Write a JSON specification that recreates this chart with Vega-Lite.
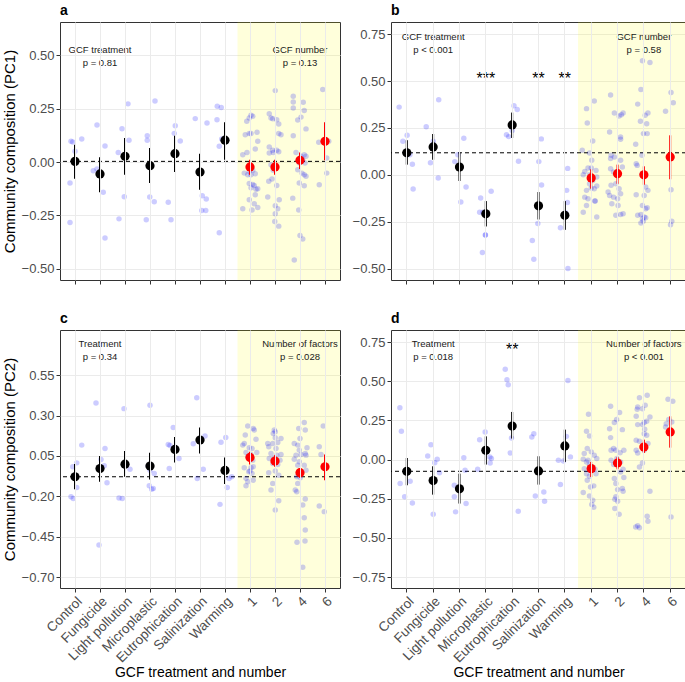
{
"$schema": "https://vega.github.io/schema/vega-lite/v6.json",
"padding": {"left": 1, "top": 3, "right": 0, "bottom": 0},
"background": "white",
"datasets": {
"shade": [{"p":"a","g1":"1","g2":"6"},{"p":"b","g1":"1","g2":"6"},{"p":"c","g1":"1","g2":"6"},{"p":"d","g1":"1","g2":"6"}],
"ctrl": [{"p":"a","v":0.003},{"p":"b","v":0.118},{"p":"c","v":-0.079},{"p":"d","v":-0.075}],
"notes": [
{"p":"a","g":"Fungicide","v":0.525,"t":"GCF treatment"},{"p":"a","g":"Fungicide","v":0.464,"t":"p = 0.81"},{"p":"a","g":"4","v":0.525,"t":"GCF number"},{"p":"a","g":"4","v":0.464,"t":"p = 0.13"},
{"p":"b","g":"Fungicide","v":0.736,"t":"GCF treatment"},{"p":"b","g":"Fungicide","v":0.666,"t":"p < 0.001"},{"p":"b","g":"4","v":0.736,"t":"GCF number"},{"p":"b","g":"4","v":0.666,"t":"p = 0.58"},
{"p":"c","g":"Fungicide","v":0.745,"t":"Treatment"},{"p":"c","g":"Fungicide","v":0.663,"t":"p = 0.34"},{"p":"c","g":"4","v":0.745,"t":"Number of factors"},{"p":"c","g":"4","v":0.663,"t":"p = 0.028"},
{"p":"d","g":"Fungicide","v":0.739,"t":"Treatment"},{"p":"d","g":"Fungicide","v":0.654,"t":"p = 0.018"},{"p":"d","g":"4","v":0.739,"t":"Number of factors"},{"p":"d","g":"4","v":0.654,"t":"p < 0.001"}
],
"stars": [
{"p":"b","g":"Microplastic","v":0.51,"t":"***"},{"p":"b","g":"Salinization","v":0.51,"t":"**"},{"p":"b","g":"Warming","v":0.51,"t":"**"},
{"p":"d","g":"Eutrophication","v":0.7,"t":"**"}
],
"means": [
{"p":"a","g":"Control","m":0.003,"lo":-0.078,"hi":0.081,"k":"t"},
{"p":"a","g":"Fungicide","m":-0.056,"lo":-0.141,"hi":0.022,"k":"t"},
{"p":"a","g":"Light pollution","m":0.027,"lo":-0.06,"hi":0.112,"k":"t"},
{"p":"a","g":"Microplastic","m":-0.017,"lo":-0.098,"hi":0.066,"k":"t"},
{"p":"a","g":"Eutrophication","m":0.039,"lo":-0.047,"hi":0.123,"k":"t"},
{"p":"a","g":"Salinization","m":-0.047,"lo":-0.13,"hi":0.039,"k":"t"},
{"p":"a","g":"Warming","m":0.102,"lo":0.011,"hi":0.186,"k":"t"},
{"p":"a","g":"1","m":-0.023,"lo":-0.06,"hi":0.011,"k":"n"},
{"p":"a","g":"2","m":-0.023,"lo":-0.06,"hi":0.011,"k":"n"},
{"p":"a","g":"4","m":0.008,"lo":-0.033,"hi":0.045,"k":"n"},
{"p":"a","g":"6","m":0.097,"lo":0.008,"hi":0.186,"k":"n"},
{"p":"b","g":"Control","m":0.118,"lo":0.055,"hi":0.185,"k":"t"},
{"p":"b","g":"Fungicide","m":0.149,"lo":0.081,"hi":0.218,"k":"t"},
{"p":"b","g":"Light pollution","m":0.042,"lo":-0.032,"hi":0.119,"k":"t"},
{"p":"b","g":"Microplastic","m":-0.207,"lo":-0.274,"hi":-0.139,"k":"t"},
{"p":"b","g":"Eutrophication","m":0.266,"lo":0.197,"hi":0.332,"k":"t"},
{"p":"b","g":"Salinization","m":-0.164,"lo":-0.237,"hi":-0.091,"k":"t"},
{"p":"b","g":"Warming","m":-0.215,"lo":-0.292,"hi":-0.139,"k":"t"},
{"p":"b","g":"1","m":-0.016,"lo":-0.073,"hi":0.03,"k":"n"},
{"p":"b","g":"2","m":0.007,"lo":-0.047,"hi":0.055,"k":"n"},
{"p":"b","g":"4","m":0.001,"lo":-0.052,"hi":0.046,"k":"n"},
{"p":"b","g":"6","m":0.096,"lo":-0.023,"hi":0.211,"k":"n"},
{"p":"c","g":"Control","m":-0.079,"lo":-0.157,"hi":0.0,"k":"t"},
{"p":"c","g":"Fungicide","m":-0.028,"lo":-0.11,"hi":0.049,"k":"t"},
{"p":"c","g":"Light pollution","m":-0.001,"lo":-0.079,"hi":0.08,"k":"t"},
{"p":"c","g":"Microplastic","m":-0.013,"lo":-0.096,"hi":0.069,"k":"t"},
{"p":"c","g":"Eutrophication","m":0.09,"lo":0.009,"hi":0.168,"k":"t"},
{"p":"c","g":"Salinization","m":0.148,"lo":0.065,"hi":0.226,"k":"t"},
{"p":"c","g":"Warming","m":-0.04,"lo":-0.124,"hi":0.04,"k":"t"},
{"p":"c","g":"1","m":0.041,"lo":-0.003,"hi":0.076,"k":"n"},
{"p":"c","g":"2","m":0.018,"lo":-0.017,"hi":0.055,"k":"n"},
{"p":"c","g":"4","m":-0.054,"lo":-0.085,"hi":-0.027,"k":"n"},
{"p":"c","g":"6","m":-0.017,"lo":-0.1,"hi":0.059,"k":"n"},
{"p":"d","g":"Control","m":-0.075,"lo":-0.164,"hi":0.01,"k":"t"},
{"p":"d","g":"Fungicide","m":-0.134,"lo":-0.224,"hi":-0.043,"k":"t"},
{"p":"d","g":"Light pollution","m":-0.187,"lo":-0.281,"hi":-0.09,"k":"t"},
{"p":"d","g":"Microplastic","m":0.059,"lo":-0.032,"hi":0.148,"k":"t"},
{"p":"d","g":"Eutrophication","m":0.214,"lo":0.134,"hi":0.304,"k":"t"},
{"p":"d","g":"Salinization","m":-0.073,"lo":-0.16,"hi":0.021,"k":"t"},
{"p":"d","g":"Warming","m":0.087,"lo":-0.015,"hi":0.191,"k":"t"},
{"p":"d","g":"1","m":-0.058,"lo":-0.111,"hi":-0.015,"k":"n"},
{"p":"d","g":"2","m":-0.022,"lo":-0.062,"hi":0.017,"k":"n"},
{"p":"d","g":"4","m":0.08,"lo":0.042,"hi":0.127,"k":"n"},
{"p":"d","g":"6","m":0.176,"lo":0.076,"hi":0.276,"k":"n"}
],
"pts": [
{"p":"a","g":"Control","j":-0.16,"v":0.097},{"p":"a","g":"Control","j":-0.09,"v":0.094},{"p":"a","g":"Control","j":0,"v":0.05},{"p":"a","g":"Control","j":0.27,"v":0.108},{"p":"a","g":"Control","j":-0.2,"v":-0.098},{"p":"a","g":"Control","j":-0.2,"v":-0.283},
{"p":"a","g":"Fungicide","j":-0.12,"v":0.173},{"p":"a","g":"Fungicide","j":-0.27,"v":-0.041},{"p":"a","g":"Fungicide","j":-0.12,"v":-0.033},{"p":"a","g":"Fungicide","j":0.2,"v":0.075},{"p":"a","g":"Fungicide","j":0.13,"v":-0.141},{"p":"a","g":"Fungicide","j":0.2,"v":-0.355},
{"p":"a","g":"Light pollution","j":0.12,"v":0.272},{"p":"a","g":"Light pollution","j":-0.12,"v":0.156},{"p":"a","g":"Light pollution","j":0.16,"v":0.102},{"p":"a","g":"Light pollution","j":-0.27,"v":0.045},{"p":"a","g":"Light pollution","j":-0.03,"v":-0.163},{"p":"a","g":"Light pollution","j":-0.24,"v":-0.266},
{"p":"a","g":"Microplastic","j":0.2,"v":0.285},{"p":"a","g":"Microplastic","j":-0.11,"v":0.123},{"p":"a","g":"Microplastic","j":-0.11,"v":0.102},{"p":"a","g":"Microplastic","j":-0.01,"v":-0.164},{"p":"a","g":"Microplastic","j":0.17,"v":-0.186},{"p":"a","g":"Microplastic","j":-0.15,"v":-0.27},
{"p":"a","g":"Eutrophication","j":0.01,"v":0.17},{"p":"a","g":"Eutrophication","j":-0.03,"v":0.134},{"p":"a","g":"Eutrophication","j":0.21,"v":0.098},{"p":"a","g":"Eutrophication","j":-0.27,"v":-0.188},{"p":"a","g":"Eutrophication","j":-0.16,"v":-0.27},
{"p":"a","g":"Salinization","j":-0.19,"v":0.203},{"p":"a","g":"Salinization","j":0.28,"v":0.183},{"p":"a","g":"Salinization","j":0.09,"v":-0.158},{"p":"a","g":"Salinization","j":0.25,"v":-0.173},{"p":"a","g":"Salinization","j":0.07,"v":-0.227},{"p":"a","g":"Salinization","j":0.23,"v":-0.227},
{"p":"a","g":"Warming","j":-0.31,"v":0.261},{"p":"a","g":"Warming","j":-0.15,"v":0.255},{"p":"a","g":"Warming","j":-0.32,"v":0.198},{"p":"a","g":"Warming","j":-0.23,"v":0.074},{"p":"a","g":"Warming","j":-0.13,"v":0.108},{"p":"a","g":"Warming","j":-0.23,"v":-0.331},
{"p":"a","g":"1","j":0.04,"v":0.219},{"p":"a","g":"1","j":-0.03,"v":0.206},{"p":"a","g":"1","j":0.11,"v":0.214},{"p":"a","g":"1","j":-0.13,"v":0.191},{"p":"a","g":"1","j":-0.03,"v":0.133},{"p":"a","g":"1","j":0.04,"v":0.133},{"p":"a","g":"1","j":-0.19,"v":0.127},{"p":"a","g":"1","j":0.28,"v":0.139},{"p":"a","g":"1","j":0.31,"v":0.097},{"p":"a","g":"1","j":-0.29,"v":0.034},{"p":"a","g":"1","j":-0.12,"v":0.045},{"p":"a","g":"1","j":0.21,"v":0.061},{"p":"a","g":"1","j":-0.23,"v":-0.052},{"p":"a","g":"1","j":0.11,"v":-0.039},{"p":"a","g":"1","j":-0.03,"v":-0.044},{"p":"a","g":"1","j":0.04,"v":-0.06},{"p":"a","g":"1","j":-0.09,"v":-0.06},{"p":"a","g":"1","j":0.21,"v":-0.055},{"p":"a","g":"1","j":-0.03,"v":-0.1},{"p":"a","g":"1","j":0.11,"v":-0.105},{"p":"a","g":"1","j":0.04,"v":-0.12},{"p":"a","g":"1","j":0.24,"v":-0.127},{"p":"a","g":"1","j":0.17,"v":-0.11},{"p":"a","g":"1","j":0.31,"v":-0.125},{"p":"a","g":"1","j":-0.03,"v":-0.177},{"p":"a","g":"1","j":0.21,"v":-0.153},{"p":"a","g":"1","j":0.17,"v":-0.195},{"p":"a","g":"1","j":-0.29,"v":-0.219},{"p":"a","g":"1","j":0.08,"v":-0.224},{"p":"a","g":"1","j":0.31,"v":-0.213},
{"p":"a","g":"2","j":0.01,"v":0.334},{"p":"a","g":"2","j":-0.23,"v":0.226},{"p":"a","g":"2","j":-0.16,"v":0.206},{"p":"a","g":"2","j":-0.09,"v":0.202},{"p":"a","g":"2","j":0.07,"v":0.198},{"p":"a","g":"2","j":0.15,"v":0.178},{"p":"a","g":"2","j":0.15,"v":0.133},{"p":"a","g":"2","j":0.24,"v":0.128},{"p":"a","g":"2","j":-0.23,"v":0.07},{"p":"a","g":"2","j":-0.09,"v":0.055},{"p":"a","g":"2","j":-0.23,"v":0.042},{"p":"a","g":"2","j":-0.07,"v":0.045},{"p":"a","g":"2","j":0.07,"v":0.055},{"p":"a","g":"2","j":0.15,"v":0.048},{"p":"a","g":"2","j":-0.16,"v":-0.013},{"p":"a","g":"2","j":0.01,"v":-0.023},{"p":"a","g":"2","j":-0.07,"v":-0.039},{"p":"a","g":"2","j":-0.25,"v":-0.09},{"p":"a","g":"2","j":-0.12,"v":-0.08},{"p":"a","g":"2","j":0.07,"v":-0.11},{"p":"a","g":"2","j":-0.29,"v":-0.164},{"p":"a","g":"2","j":0.17,"v":-0.177},{"p":"a","g":"2","j":0.01,"v":-0.205},{"p":"a","g":"2","j":0.11,"v":-0.219},{"p":"a","g":"2","j":0.01,"v":-0.242},{"p":"a","g":"2","j":0.15,"v":-0.3},{"p":"a","g":"2","j":-0.01,"v":-0.278},
{"p":"a","g":"4","j":-0.27,"v":0.308},{"p":"a","g":"4","j":-0.27,"v":0.281},{"p":"a","g":"4","j":-0.27,"v":0.253},{"p":"a","g":"4","j":0.13,"v":0.28},{"p":"a","g":"4","j":0.17,"v":0.241},{"p":"a","g":"4","j":-0.09,"v":0.196},{"p":"a","g":"4","j":0.04,"v":0.21},{"p":"a","g":"4","j":0.24,"v":0.155},{"p":"a","g":"4","j":-0.27,"v":0.123},{"p":"a","g":"4","j":-0.16,"v":0.045},{"p":"a","g":"4","j":0.04,"v":0.027},{"p":"a","g":"4","j":0.17,"v":0.034},{"p":"a","g":"4","j":0.24,"v":0.027},{"p":"a","g":"4","j":-0.03,"v":-0.005},{"p":"a","g":"4","j":0.11,"v":0.011},{"p":"a","g":"4","j":0.2,"v":-0.005},{"p":"a","g":"4","j":-0.09,"v":-0.036},{"p":"a","g":"4","j":0.17,"v":-0.06},{"p":"a","g":"4","j":0.24,"v":-0.067},{"p":"a","g":"4","j":0.08,"v":-0.052},{"p":"a","g":"4","j":-0.03,"v":-0.098},{"p":"a","g":"4","j":0.17,"v":-0.111},{"p":"a","g":"4","j":-0.29,"v":-0.169},{"p":"a","g":"4","j":-0.05,"v":-0.224},{"p":"a","g":"4","j":0,"v":-0.344},{"p":"a","g":"4","j":0.11,"v":-0.36},{"p":"a","g":"4","j":-0.23,"v":-0.458},
{"p":"a","g":"6","j":-0.09,"v":0.339},{"p":"a","g":"6","j":-0.25,"v":0.092},{"p":"a","g":"6","j":0.15,"v":0.097},{"p":"a","g":"6","j":0.07,"v":0.019},{"p":"a","g":"6","j":0.07,"v":-0.052},{"p":"a","g":"6","j":-0.23,"v":-0.106},
{"p":"b","g":"Control","j":-0.28,"v":0.361},{"p":"b","g":"Control","j":0.04,"v":0.211},{"p":"b","g":"Control","j":-0.13,"v":0.179},{"p":"b","g":"Control","j":0.15,"v":0.108},{"p":"b","g":"Control","j":0.25,"v":0.057},{"p":"b","g":"Control","j":0.28,"v":-0.075},
{"p":"b","g":"Fungicide","j":-0.25,"v":0.256},{"p":"b","g":"Fungicide","j":0.03,"v":0.179},{"p":"b","g":"Fungicide","j":-0.08,"v":0.065},{"p":"b","g":"Fungicide","j":0.25,"v":0.4},{"p":"b","g":"Fungicide","j":0.23,"v":-0.016},
{"p":"b","g":"Light pollution","j":0.2,"v":0.195},{"p":"b","g":"Light pollution","j":-0.16,"v":0.071},{"p":"b","g":"Light pollution","j":-0.04,"v":0.108},{"p":"b","g":"Light pollution","j":0.29,"v":-0.064},{"p":"b","g":"Light pollution","j":0.08,"v":-0.144},
{"p":"b","g":"Microplastic","j":-0.18,"v":-0.123},{"p":"b","g":"Microplastic","j":0.24,"v":-0.087},{"p":"b","g":"Microplastic","j":-0.22,"v":-0.198},{"p":"b","g":"Microplastic","j":-0.09,"v":-0.198},{"p":"b","g":"Microplastic","j":0.01,"v":-0.32},{"p":"b","g":"Microplastic","j":0.01,"v":-0.32},{"p":"b","g":"Microplastic","j":-0.11,"v":-0.413},
{"p":"b","g":"Eutrophication","j":0.1,"v":0.368},{"p":"b","g":"Eutrophication","j":0.23,"v":0.348},{"p":"b","g":"Eutrophication","j":-0.2,"v":0.214},{"p":"b","g":"Eutrophication","j":-0.11,"v":0.204},{"p":"b","g":"Eutrophication","j":0.03,"v":0.236},{"p":"b","g":"Eutrophication","j":0.28,"v":0.073},
{"p":"b","g":"Salinization","j":0.14,"v":0.192},{"p":"b","g":"Salinization","j":0.04,"v":0.071},{"p":"b","g":"Salinization","j":0.15,"v":-0.054},{"p":"b","g":"Salinization","j":0,"v":-0.258},{"p":"b","g":"Salinization","j":-0.22,"v":-0.349},{"p":"b","g":"Salinization","j":-0.16,"v":-0.448},
{"p":"b","g":"Warming","j":0.14,"v":0.035},{"p":"b","g":"Warming","j":0.1,"v":-0.082},{"p":"b","g":"Warming","j":0.13,"v":-0.146},{"p":"b","g":"Warming","j":-0.15,"v":-0.281},{"p":"b","g":"Warming","j":0.06,"v":-0.201},{"p":"b","g":"Warming","j":0.15,"v":-0.498},
{"p":"b","g":"1","j":0.15,"v":0.393},{"p":"b","g":"1","j":-0.16,"v":0.353},{"p":"b","g":"1","j":-0.13,"v":0.277},{"p":"b","g":"1","j":0.09,"v":0.181},{"p":"b","g":"1","j":-0.33,"v":0.131},{"p":"b","g":"1","j":-0.04,"v":0.117},{"p":"b","g":"1","j":0.05,"v":0.078},{"p":"b","g":"1","j":-0.1,"v":0.037},{"p":"b","g":"1","j":0.03,"v":0.037},{"p":"b","g":"1","j":0.22,"v":0.024},{"p":"b","g":"1","j":-0.23,"v":0.019},{"p":"b","g":"1","j":-0.04,"v":0.001},{"p":"b","g":"1","j":0.25,"v":-0.011},{"p":"b","g":"1","j":-0.29,"v":0.001},{"p":"b","g":"1","j":0.09,"v":-0.029},{"p":"b","g":"1","j":-0.04,"v":-0.047},{"p":"b","g":"1","j":0.15,"v":-0.073},{"p":"b","g":"1","j":-0.16,"v":-0.082},{"p":"b","g":"1","j":0.03,"v":-0.07},{"p":"b","g":"1","j":0.25,"v":-0.059},{"p":"b","g":"1","j":-0.23,"v":-0.118},{"p":"b","g":"1","j":-0.1,"v":-0.127},{"p":"b","g":"1","j":0.18,"v":-0.139},{"p":"b","g":"1","j":0.18,"v":-0.139},{"p":"b","g":"1","j":-0.16,"v":-0.162},{"p":"b","g":"1","j":-0.29,"v":-0.198},{"p":"b","g":"1","j":0.25,"v":-0.224},
{"p":"b","g":"2","j":-0.25,"v":0.425},{"p":"b","g":"2","j":-0.1,"v":0.33},{"p":"b","g":"2","j":0.09,"v":0.314},{"p":"b","g":"2","j":0.25,"v":0.33},{"p":"b","g":"2","j":0.18,"v":0.321},{"p":"b","g":"2","j":-0.29,"v":0.229},{"p":"b","g":"2","j":0.15,"v":0.202},{"p":"b","g":"2","j":0.15,"v":0.19},{"p":"b","g":"2","j":-0.23,"v":0.105},{"p":"b","g":"2","j":-0.1,"v":0.096},{"p":"b","g":"2","j":-0.25,"v":0.087},{"p":"b","g":"2","j":0.15,"v":0.078},{"p":"b","g":"2","j":-0.25,"v":0.033},{"p":"b","g":"2","j":-0.13,"v":0.016},{"p":"b","g":"2","j":0.22,"v":0.042},{"p":"b","g":"2","j":-0.23,"v":-0.055},{"p":"b","g":"2","j":-0.04,"v":-0.047},{"p":"b","g":"2","j":0.09,"v":-0.073},{"p":"b","g":"2","j":-0.35,"v":-0.091},{"p":"b","g":"2","j":-0.29,"v":-0.109},{"p":"b","g":"2","j":-0.13,"v":-0.118},{"p":"b","g":"2","j":0.03,"v":-0.127},{"p":"b","g":"2","j":0.15,"v":-0.1},{"p":"b","g":"2","j":-0.2,"v":-0.153},{"p":"b","g":"2","j":0.05,"v":-0.162},{"p":"b","g":"2","j":-0.04,"v":-0.215},{"p":"b","g":"2","j":0.25,"v":-0.207},{"p":"b","g":"2","j":0.15,"v":-0.21},
{"p":"b","g":"4","j":-0.03,"v":0.608},{"p":"b","g":"4","j":0.27,"v":0.599},{"p":"b","g":"4","j":-0.09,"v":0.455},{"p":"b","g":"4","j":-0.22,"v":0.377},{"p":"b","g":"4","j":0.19,"v":0.33},{"p":"b","g":"4","j":0.08,"v":0.318},{"p":"b","g":"4","j":-0.11,"v":0.286},{"p":"b","g":"4","j":0.14,"v":0.273},{"p":"b","g":"4","j":0.16,"v":0.22},{"p":"b","g":"4","j":0.01,"v":0.22},{"p":"b","g":"4","j":-0.3,"v":0.163},{"p":"b","g":"4","j":-0.28,"v":0.06},{"p":"b","g":"4","j":-0.05,"v":0.105},{"p":"b","g":"4","j":-0.24,"v":0.051},{"p":"b","g":"4","j":-0.03,"v":0.007},{"p":"b","g":"4","j":0.1,"v":-0.064},{"p":"b","g":"4","j":0.19,"v":-0.082},{"p":"b","g":"4","j":-0.28,"v":-0.105},{"p":"b","g":"4","j":0.04,"v":-0.109},{"p":"b","g":"4","j":-0.03,"v":-0.162},{"p":"b","g":"4","j":0.16,"v":-0.175},{"p":"b","g":"4","j":0.1,"v":-0.18},{"p":"b","g":"4","j":-0.22,"v":-0.215},{"p":"b","g":"4","j":-0.09,"v":-0.21},{"p":"b","g":"4","j":0.04,"v":-0.224},{"p":"b","g":"4","j":-0.03,"v":-0.233},{"p":"b","g":"4","j":0.1,"v":-0.228},{"p":"b","g":"4","j":-0.09,"v":-0.256},{"p":"b","g":"4","j":0,"v":-0.246},
{"p":"b","g":"6","j":0.06,"v":0.439},{"p":"b","g":"6","j":0.15,"v":0.384},{"p":"b","g":"6","j":-0.16,"v":0.339},{"p":"b","g":"6","j":0.06,"v":-0.079},{"p":"b","g":"6","j":0.09,"v":-0.246},{"p":"b","g":"6","j":0.04,"v":-0.265},
{"p":"c","g":"Control","j":0.27,"v":0.117},{"p":"c","g":"Control","j":0.07,"v":0.007},{"p":"c","g":"Control","j":-0.09,"v":-0.017},{"p":"c","g":"Control","j":0.07,"v":-0.145},{"p":"c","g":"Control","j":-0.16,"v":-0.203},{"p":"c","g":"Control","j":-0.07,"v":-0.213},
{"p":"c","g":"Fungicide","j":-0.16,"v":0.378},{"p":"c","g":"Fungicide","j":0.2,"v":0.096},{"p":"c","g":"Fungicide","j":0.04,"v":0.028},{"p":"c","g":"Fungicide","j":0.17,"v":-0.011},{"p":"c","g":"Fungicide","j":0.28,"v":-0.116},{"p":"c","g":"Fungicide","j":-0.04,"v":-0.502},
{"p":"c","g":"Light pollution","j":-0.04,"v":0.343},{"p":"c","g":"Light pollution","j":0.2,"v":-0.032},{"p":"c","g":"Light pollution","j":-0.24,"v":-0.211},{"p":"c","g":"Light pollution","j":-0.11,"v":-0.213},
{"p":"c","g":"Microplastic","j":0,"v":0.364},{"p":"c","g":"Microplastic","j":-0.07,"v":-0.013},{"p":"c","g":"Microplastic","j":0,"v":-0.038},{"p":"c","g":"Microplastic","j":0.17,"v":-0.059},{"p":"c","g":"Microplastic","j":-0.03,"v":-0.135},{"p":"c","g":"Microplastic","j":0.07,"v":-0.157},{"p":"c","g":"Microplastic","j":0.13,"v":-0.151},
{"p":"c","g":"Eutrophication","j":-0.07,"v":0.226},{"p":"c","g":"Eutrophication","j":-0.27,"v":0.121},{"p":"c","g":"Eutrophication","j":-0.2,"v":0.115},{"p":"c","g":"Eutrophication","j":0.16,"v":0.034},{"p":"c","g":"Eutrophication","j":-0.23,"v":-0.028},
{"p":"c","g":"Salinization","j":-0.13,"v":0.41},{"p":"c","g":"Salinization","j":0.2,"v":0.174},{"p":"c","g":"Salinization","j":-0.27,"v":0.125},{"p":"c","g":"Salinization","j":0.13,"v":-0.032},{"p":"c","g":"Salinization","j":-0.11,"v":-0.09},
{"p":"c","g":"Warming","j":0.03,"v":0.164},{"p":"c","g":"Warming","j":-0.16,"v":0.135},{"p":"c","g":"Warming","j":0.27,"v":-0.079},{"p":"c","g":"Warming","j":0.16,"v":-0.09},{"p":"c","g":"Warming","j":0.09,"v":-0.145},{"p":"c","g":"Warming","j":-0.2,"v":-0.25},
{"p":"c","g":"1","j":-0.09,"v":0.236},{"p":"c","g":"1","j":0.17,"v":0.21},{"p":"c","g":"1","j":0.13,"v":0.22},{"p":"c","g":"1","j":-0.19,"v":0.179},{"p":"c","g":"1","j":0.24,"v":0.154},{"p":"c","g":"1","j":-0.23,"v":0.127},{"p":"c","g":"1","j":-0.29,"v":0.117},{"p":"c","g":"1","j":-0.03,"v":0.1},{"p":"c","g":"1","j":0.08,"v":0.096},{"p":"c","g":"1","j":-0.16,"v":0.071},{"p":"c","g":"1","j":0.27,"v":0.071},{"p":"c","g":"1","j":0.04,"v":0.059},{"p":"c","g":"1","j":-0.09,"v":0.045},{"p":"c","g":"1","j":0.11,"v":0.024},{"p":"c","g":"1","j":-0.23,"v":-0.023},{"p":"c","g":"1","j":0.04,"v":-0.023},{"p":"c","g":"1","j":0.13,"v":-0.017},{"p":"c","g":"1","j":-0.05,"v":-0.048},{"p":"c","g":"1","j":0.08,"v":-0.058},{"p":"c","g":"1","j":0,"v":-0.044},{"p":"c","g":"1","j":-0.16,"v":-0.089},{"p":"c","g":"1","j":0.13,"v":-0.1},{"p":"c","g":"1","j":-0.09,"v":-0.11},{"p":"c","g":"1","j":-0.16,"v":-0.135},
{"p":"c","g":"2","j":-0.03,"v":0.21},{"p":"c","g":"2","j":0.01,"v":0.2},{"p":"c","g":"2","j":-0.07,"v":0.189},{"p":"c","g":"2","j":0.24,"v":0.158},{"p":"c","g":"2","j":0.01,"v":0.162},{"p":"c","g":"2","j":-0.29,"v":0.127},{"p":"c","g":"2","j":-0.09,"v":0.127},{"p":"c","g":"2","j":0.11,"v":0.133},{"p":"c","g":"2","j":-0.25,"v":0.107},{"p":"c","g":"2","j":0.04,"v":0.096},{"p":"c","g":"2","j":-0.16,"v":0.065},{"p":"c","g":"2","j":0.07,"v":0.055},{"p":"c","g":"2","j":0.24,"v":0.059},{"p":"c","g":"2","j":-0.23,"v":0.034},{"p":"c","g":"2","j":-0.03,"v":0.039},{"p":"c","g":"2","j":0.2,"v":0.024},{"p":"c","g":"2","j":-0.09,"v":0.003},{"p":"c","g":"2","j":0.11,"v":-0.003},{"p":"c","g":"2","j":-0.25,"v":-0.054},{"p":"c","g":"2","j":0.01,"v":-0.044},{"p":"c","g":"2","j":0.15,"v":-0.069},{"p":"c","g":"2","j":-0.09,"v":-0.12},{"p":"c","g":"2","j":-0.16,"v":-0.161},{"p":"c","g":"2","j":0.15,"v":-0.227},{"p":"c","g":"2","j":0.01,"v":-0.285},
{"p":"c","g":"4","j":0.17,"v":0.257},{"p":"c","g":"4","j":-0.05,"v":0.22},{"p":"c","g":"4","j":0.21,"v":0.21},{"p":"c","g":"4","j":0,"v":0.158},{"p":"c","g":"4","j":-0.23,"v":0.127},{"p":"c","g":"4","j":-0.09,"v":0.117},{"p":"c","g":"4","j":0.28,"v":0.1},{"p":"c","g":"4","j":-0.03,"v":0.086},{"p":"c","g":"4","j":0.21,"v":0.065},{"p":"c","g":"4","j":-0.16,"v":0.055},{"p":"c","g":"4","j":0.04,"v":0.059},{"p":"c","g":"4","j":0.24,"v":0.055},{"p":"c","g":"4","j":-0.23,"v":0.03},{"p":"c","g":"4","j":-0.03,"v":0.014},{"p":"c","g":"4","j":-0.09,"v":-0.007},{"p":"c","g":"4","j":0.17,"v":-0.007},{"p":"c","g":"4","j":0.24,"v":-0.038},{"p":"c","g":"4","j":-0.13,"v":-0.079},{"p":"c","g":"4","j":0.01,"v":-0.085},{"p":"c","g":"4","j":-0.09,"v":-0.12},{"p":"c","g":"4","j":-0.19,"v":-0.161},{"p":"c","g":"4","j":-0.13,"v":-0.172},{"p":"c","g":"4","j":0.21,"v":-0.217},{"p":"c","g":"4","j":0.11,"v":-0.254},{"p":"c","g":"4","j":0.17,"v":-0.333},{"p":"c","g":"4","j":0.21,"v":-0.409},{"p":"c","g":"4","j":-0.12,"v":-0.485},{"p":"c","g":"4","j":0.2,"v":-0.477},{"p":"c","g":"4","j":0.11,"v":-0.64},
{"p":"c","g":"6","j":-0.07,"v":0.236},{"p":"c","g":"6","j":-0.23,"v":0.107},{"p":"c","g":"6","j":-0.16,"v":0.059},{"p":"c","g":"6","j":-0.23,"v":-0.26},{"p":"c","g":"6","j":-0.03,"v":-0.295},
{"p":"d","g":"Control","j":-0.25,"v":0.331},{"p":"d","g":"Control","j":-0.19,"v":0.18},{"p":"d","g":"Control","j":-0.24,"v":-0.153},{"p":"d","g":"Control","j":0.16,"v":-0.139},{"p":"d","g":"Control","j":-0.06,"v":-0.238},{"p":"d","g":"Control","j":0.25,"v":-0.277},
{"p":"d","g":"Fungicide","j":-0.06,"v":0.095},{"p":"d","g":"Fungicide","j":-0.19,"v":0.023},{"p":"d","g":"Fungicide","j":0.19,"v":0.002},{"p":"d","g":"Fungicide","j":0.09,"v":-0.02},{"p":"d","g":"Fungicide","j":0.28,"v":-0.085},{"p":"d","g":"Fungicide","j":0.03,"v":-0.349},
{"p":"d","g":"Light pollution","j":0.2,"v":0.012},{"p":"d","g":"Light pollution","j":0.25,"v":-0.068},{"p":"d","g":"Light pollution","j":-0.18,"v":-0.164},{"p":"d","g":"Light pollution","j":-0.18,"v":-0.238},{"p":"d","g":"Light pollution","j":-0.13,"v":-0.334},{"p":"d","g":"Light pollution","j":0.29,"v":-0.281},
{"p":"d","g":"Microplastic","j":0,"v":0.176},{"p":"d","g":"Microplastic","j":-0.22,"v":0.127},{"p":"d","g":"Microplastic","j":-0.3,"v":-0.062},{"p":"d","g":"Microplastic","j":0.19,"v":0.016},{"p":"d","g":"Microplastic","j":0.25,"v":0.006},{"p":"d","g":"Microplastic","j":0.2,"v":-0.022},
{"p":"d","g":"Eutrophication","j":-0.25,"v":0.576},{"p":"d","g":"Eutrophication","j":-0.18,"v":0.51},{"p":"d","g":"Eutrophication","j":-0.13,"v":0.478},{"p":"d","g":"Eutrophication","j":0,"v":0.138},{"p":"d","g":"Eutrophication","j":-0.05,"v":0.042},{"p":"d","g":"Eutrophication","j":0.27,"v":-0.33},
{"p":"d","g":"Salinization","j":-0.24,"v":0.144},{"p":"d","g":"Salinization","j":-0.16,"v":0.165},{"p":"d","g":"Salinization","j":-0.1,"v":-0.232},{"p":"d","g":"Salinization","j":0.24,"v":-0.207},{"p":"d","g":"Salinization","j":0.27,"v":-0.266},
{"p":"d","g":"Warming","j":0.15,"v":0.505},{"p":"d","g":"Warming","j":0.09,"v":0.148},{"p":"d","g":"Warming","j":-0.23,"v":-0.005},{"p":"d","g":"Warming","j":-0.03,"v":-0.009},{"p":"d","g":"Warming","j":0.25,"v":0.017},{"p":"d","g":"Warming","j":-0.15,"v":-0.16},
{"p":"d","g":"1","j":-0.08,"v":0.289},{"p":"d","g":"1","j":-0.16,"v":0.18},{"p":"d","g":"1","j":-0.04,"v":0.151},{"p":"d","g":"1","j":-0.13,"v":0.07},{"p":"d","g":"1","j":-0.25,"v":0.038},{"p":"d","g":"1","j":0.03,"v":0.049},{"p":"d","g":"1","j":0.15,"v":0.027},{"p":"d","g":"1","j":0.25,"v":0.006},{"p":"d","g":"1","j":-0.29,"v":0.002},{"p":"d","g":"1","j":-0.1,"v":-0.005},{"p":"d","g":"1","j":-0.16,"v":-0.015},{"p":"d","g":"1","j":-0.04,"v":-0.036},{"p":"d","g":"1","j":0.09,"v":-0.047},{"p":"d","g":"1","j":0.18,"v":-0.062},{"p":"d","g":"1","j":-0.25,"v":-0.058},{"p":"d","g":"1","j":0.22,"v":-0.09},{"p":"d","g":"1","j":-0.16,"v":-0.09},{"p":"d","g":"1","j":-0.04,"v":-0.107},{"p":"d","g":"1","j":-0.13,"v":-0.132},{"p":"d","g":"1","j":0,"v":-0.175},{"p":"d","g":"1","j":0.13,"v":-0.168},{"p":"d","g":"1","j":-0.29,"v":-0.211},{"p":"d","g":"1","j":-0.04,"v":-0.232},{"p":"d","g":"1","j":0.09,"v":-0.26},{"p":"d","g":"1","j":0.05,"v":-0.287},{"p":"d","g":"1","j":0.13,"v":-0.304},
{"p":"d","g":"2","j":-0.25,"v":0.34},{"p":"d","g":"2","j":0.11,"v":0.3},{"p":"d","g":"2","j":-0.01,"v":0.255},{"p":"d","g":"2","j":-0.1,"v":0.236},{"p":"d","g":"2","j":0.22,"v":0.191},{"p":"d","g":"2","j":-0.29,"v":0.197},{"p":"d","g":"2","j":-0.25,"v":0.14},{"p":"d","g":"2","j":-0.13,"v":0.07},{"p":"d","g":"2","j":-0.04,"v":0.059},{"p":"d","g":"2","j":-0.23,"v":0.059},{"p":"d","g":"2","j":0.28,"v":0.059},{"p":"d","g":"2","j":0.13,"v":0.044},{"p":"d","g":"2","j":0,"v":0.006},{"p":"d","g":"2","j":0.15,"v":-0.015},{"p":"d","g":"2","j":-0.23,"v":-0.005},{"p":"d","g":"2","j":-0.13,"v":-0.032},{"p":"d","g":"2","j":0.25,"v":-0.062},{"p":"d","g":"2","j":0.15,"v":-0.079},{"p":"d","g":"2","j":-0.1,"v":-0.121},{"p":"d","g":"2","j":0.28,"v":-0.115},{"p":"d","g":"2","j":-0.04,"v":-0.153},{"p":"d","g":"2","j":0.03,"v":-0.192},{"p":"d","g":"2","j":0.22,"v":-0.185},{"p":"d","g":"2","j":0.25,"v":-0.202},{"p":"d","g":"2","j":-0.04,"v":-0.238},{"p":"d","g":"2","j":-0.08,"v":-0.253},{"p":"d","g":"2","j":0.03,"v":-0.266},{"p":"d","g":"2","j":-0.08,"v":-0.313},{"p":"d","g":"2","j":0.09,"v":-0.349},
{"p":"d","g":"4","j":-0.15,"v":0.395},{"p":"d","g":"4","j":0.16,"v":0.41},{"p":"d","g":"4","j":-0.22,"v":0.336},{"p":"d","g":"4","j":0.08,"v":0.346},{"p":"d","g":"4","j":-0.24,"v":0.321},{"p":"d","g":"4","j":-0.03,"v":0.325},{"p":"d","g":"4","j":0.27,"v":0.272},{"p":"d","g":"4","j":-0.28,"v":0.276},{"p":"d","g":"4","j":0.04,"v":0.236},{"p":"d","g":"4","j":0.14,"v":0.244},{"p":"d","g":"4","j":-0.22,"v":0.223},{"p":"d","g":"4","j":-0.03,"v":0.223},{"p":"d","g":"4","j":0.06,"v":0.193},{"p":"d","g":"4","j":0.04,"v":0.165},{"p":"d","g":"4","j":0.14,"v":0.155},{"p":"d","g":"4","j":-0.28,"v":0.123},{"p":"d","g":"4","j":-0.15,"v":0.117},{"p":"d","g":"4","j":0.19,"v":0.102},{"p":"d","g":"4","j":0.1,"v":0.074},{"p":"d","g":"4","j":0.04,"v":0.059},{"p":"d","g":"4","j":-0.28,"v":0.059},{"p":"d","g":"4","j":-0.22,"v":0.042},{"p":"d","g":"4","j":-0.03,"v":-0.022},{"p":"d","g":"4","j":-0.15,"v":-0.047},{"p":"d","g":"4","j":0.27,"v":-0.202},{"p":"d","g":"4","j":0.16,"v":-0.362},{"p":"d","g":"4","j":0.19,"v":-0.394},{"p":"d","g":"4","j":-0.3,"v":-0.43},{"p":"d","g":"4","j":-0.22,"v":-0.423},{"p":"d","g":"4","j":-0.15,"v":-0.436},
{"p":"d","g":"6","j":-0.06,"v":0.385},{"p":"d","g":"6","j":0.13,"v":0.372},{"p":"d","g":"6","j":-0.03,"v":0.255},{"p":"d","g":"6","j":-0.13,"v":0.229},{"p":"d","g":"6","j":0.09,"v":0.24},{"p":"d","g":"6","j":-0.16,"v":0.208},{"p":"d","g":"6","j":0.06,"v":-0.366}
]
},
"concat": [
{
"width": 280, "height": 258,
"title": {"text": "a"},
"layer": [
{"data": {"name": "shade"}, "transform": [{"filter": "datum.p=='a'"}], "mark": {"type": "rect", "color": "yellow", "opacity": 0.14},
 "encoding": {"x": {"field": "g1", "type": "nominal", "bandPosition": 0, "scale": {"domain": ["Control","Fungicide","Light pollution","Microplastic","Eutrophication","Salinization","Warming","1","2","4","6"], "paddingInner": 0, "paddingOuter": 0.1}, "axis": {"title": null, "labels": false, "grid": true}}, "x2": {"field": "g2", "bandPosition": 1.1}}},
{"data": {"name": "ctrl"}, "transform": [{"filter": "datum.p=='a'"}], "mark": {"type": "rule", "strokeDash": [4,3], "color": "black", "strokeWidth": 1},
 "encoding": {"y": {"field": "v", "type": "quantitative", "scale": {"domain": [-0.552, 0.655], "nice": false, "zero": false},
  "axis": {"title": "Community composition (PC1)", "values": [-0.5,-0.375,-0.25,-0.125,0,0.125,0.25,0.375,0.5,0.625],
   "labelExpr": "abs(datum.value*4-round(datum.value*4))<0.01 ? format(datum.value,'.2f') : ''",
   "gridWidth": {"condition": {"test": "abs(datum.value*4-round(datum.value*4))<0.01", "value": 1}, "value": 0.5},
   "tickOpacity": {"condition": {"test": "abs(datum.value*4-round(datum.value*4))<0.01", "value": 1}, "value": 0}}}}},
{"data": {"name": "pts"}, "transform": [{"filter": "datum.p=='a'"}], "mark": {"type": "circle", "color": "blue", "opacity": 0.2, "size": 30},
 "encoding": {"x": {"field": "g", "type": "nominal"}, "xOffset": {"field": "j", "type": "quantitative", "scale": {"domain": [-0.5, 0.5]}}, "y": {"field": "v", "type": "quantitative"}}},
{"data": {"name": "means"}, "transform": [{"filter": "datum.p=='a'"}], "mark": {"type": "rule", "strokeWidth": 2},
 "encoding": {"x": {"field": "g", "type": "nominal"}, "y": {"field": "lo", "type": "quantitative"}, "y2": {"field": "hi"}, "color": {"field": "k", "type": "nominal", "scale": {"domain": ["t","n"], "range": ["black","red"]}, "legend": null}}},
{"data": {"name": "means"}, "transform": [{"filter": "datum.p=='a'"}], "mark": {"type": "circle", "size": 85, "opacity": 1},
 "encoding": {"x": {"field": "g", "type": "nominal"}, "y": {"field": "m", "type": "quantitative"}, "color": {"field": "k", "type": "nominal", "scale": {"domain": ["t","n"], "range": ["black","red"]}, "legend": null}}},
{"data": {"name": "notes"}, "transform": [{"filter": "datum.p=='a'"}], "mark": {"type": "text", "fontSize": 9.5, "baseline": "middle", "color": "#1a1a1a"},
 "encoding": {"x": {"field": "g", "type": "nominal"}, "y": {"field": "v", "type": "quantitative"}, "text": {"field": "t"}}}
]
},
{
"width": 295, "height": 258,
"title": {"text": "b"},
"layer": [
{"data": {"name": "shade"}, "transform": [{"filter": "datum.p=='b'"}], "mark": {"type": "rect", "color": "yellow", "opacity": 0.14},
 "encoding": {"x": {"field": "g1", "type": "nominal", "bandPosition": 0, "scale": {"domain": ["Control","Fungicide","Light pollution","Microplastic","Eutrophication","Salinization","Warming","1","2","4","6"], "paddingInner": 0, "paddingOuter": 0.1}, "axis": {"title": null, "labels": false, "grid": true}}, "x2": {"field": "g2", "bandPosition": 1.1}}},
{"data": {"name": "ctrl"}, "transform": [{"filter": "datum.p=='b'"}], "mark": {"type": "rule", "strokeDash": [4,3], "color": "black", "strokeWidth": 1},
 "encoding": {"y": {"field": "v", "type": "quantitative", "scale": {"domain": [-0.559, 0.814], "nice": false, "zero": false},
  "axis": {"title": null, "values": [-0.5,-0.375,-0.25,-0.125,0,0.125,0.25,0.375,0.5,0.625,0.75],
   "labelExpr": "abs(datum.value*4-round(datum.value*4))<0.01 ? format(datum.value,'.2f') : ''",
   "gridWidth": {"condition": {"test": "abs(datum.value*4-round(datum.value*4))<0.01", "value": 1}, "value": 0.5},
   "tickOpacity": {"condition": {"test": "abs(datum.value*4-round(datum.value*4))<0.01", "value": 1}, "value": 0}}}}},
{"data": {"name": "pts"}, "transform": [{"filter": "datum.p=='b'"}], "mark": {"type": "circle", "color": "blue", "opacity": 0.2, "size": 30},
 "encoding": {"x": {"field": "g", "type": "nominal"}, "xOffset": {"field": "j", "type": "quantitative", "scale": {"domain": [-0.5, 0.5]}}, "y": {"field": "v", "type": "quantitative"}}},
{"data": {"name": "means"}, "transform": [{"filter": "datum.p=='b'"}], "mark": {"type": "rule", "strokeWidth": 2},
 "encoding": {"x": {"field": "g", "type": "nominal"}, "y": {"field": "lo", "type": "quantitative"}, "y2": {"field": "hi"}, "color": {"field": "k", "type": "nominal", "scale": {"domain": ["t","n"], "range": ["black","red"]}, "legend": null}}},
{"data": {"name": "means"}, "transform": [{"filter": "datum.p=='b'"}], "mark": {"type": "circle", "size": 85, "opacity": 1},
 "encoding": {"x": {"field": "g", "type": "nominal"}, "y": {"field": "m", "type": "quantitative"}, "color": {"field": "k", "type": "nominal", "scale": {"domain": ["t","n"], "range": ["black","red"]}, "legend": null}}},
{"data": {"name": "notes"}, "transform": [{"filter": "datum.p=='b'"}], "mark": {"type": "text", "fontSize": 9.5, "baseline": "middle", "color": "#1a1a1a"},
 "encoding": {"x": {"field": "g", "type": "nominal"}, "y": {"field": "v", "type": "quantitative"}, "text": {"field": "t"}}},
{"data": {"name": "stars"}, "transform": [{"filter": "datum.p=='b'"}], "mark": {"type": "text", "fontSize": 16, "baseline": "middle", "color": "black"},
 "encoding": {"x": {"field": "g", "type": "nominal"}, "y": {"field": "v", "type": "quantitative"}, "text": {"field": "t"}}}
]
},
{
"width": 280, "height": 258,
"title": {"text": "c"},
"layer": [
{"data": {"name": "shade"}, "transform": [{"filter": "datum.p=='c'"}], "mark": {"type": "rect", "color": "yellow", "opacity": 0.14},
 "encoding": {"x": {"field": "g1", "type": "nominal", "bandPosition": 0, "scale": {"domain": ["Control","Fungicide","Light pollution","Microplastic","Eutrophication","Salinization","Warming","1","2","4","6"], "paddingInner": 0, "paddingOuter": 0.1}, "axis": {"title": "GCF treatment and number", "labelAngle": -45, "labelAlign": "right", "labelBaseline": "top", "labelFontSize": 13.5, "titlePadding": 1, "grid": true}}, "x2": {"field": "g2", "bandPosition": 1.1}}},
{"data": {"name": "ctrl"}, "transform": [{"filter": "datum.p=='c'"}], "mark": {"type": "rule", "strokeDash": [4,3], "color": "black", "strokeWidth": 1},
 "encoding": {"y": {"field": "v", "type": "quantitative", "scale": {"domain": [-0.768, 0.83], "nice": false, "zero": false},
  "axis": {"title": "Community composition (PC2)", "values": [-0.7,-0.575,-0.45,-0.325,-0.2,-0.075,0.05,0.175,0.3,0.425,0.55,0.675],
   "labelExpr": "abs((datum.value+0.7)*4-round((datum.value+0.7)*4))<0.01 ? format(datum.value,'.2f') : ''",
   "gridWidth": {"condition": {"test": "abs((datum.value+0.7)*4-round((datum.value+0.7)*4))<0.01", "value": 1}, "value": 0.5},
   "tickOpacity": {"condition": {"test": "abs((datum.value+0.7)*4-round((datum.value+0.7)*4))<0.01", "value": 1}, "value": 0}}}}},
{"data": {"name": "pts"}, "transform": [{"filter": "datum.p=='c'"}], "mark": {"type": "circle", "color": "blue", "opacity": 0.2, "size": 30},
 "encoding": {"x": {"field": "g", "type": "nominal"}, "xOffset": {"field": "j", "type": "quantitative", "scale": {"domain": [-0.5, 0.5]}}, "y": {"field": "v", "type": "quantitative"}}},
{"data": {"name": "means"}, "transform": [{"filter": "datum.p=='c'"}], "mark": {"type": "rule", "strokeWidth": 2},
 "encoding": {"x": {"field": "g", "type": "nominal"}, "y": {"field": "lo", "type": "quantitative"}, "y2": {"field": "hi"}, "color": {"field": "k", "type": "nominal", "scale": {"domain": ["t","n"], "range": ["black","red"]}, "legend": null}}},
{"data": {"name": "means"}, "transform": [{"filter": "datum.p=='c'"}], "mark": {"type": "circle", "size": 85, "opacity": 1},
 "encoding": {"x": {"field": "g", "type": "nominal"}, "y": {"field": "m", "type": "quantitative"}, "color": {"field": "k", "type": "nominal", "scale": {"domain": ["t","n"], "range": ["black","red"]}, "legend": null}}},
{"data": {"name": "notes"}, "transform": [{"filter": "datum.p=='c'"}], "mark": {"type": "text", "fontSize": 9.5, "baseline": "middle", "color": "#1a1a1a"},
 "encoding": {"x": {"field": "g", "type": "nominal"}, "y": {"field": "v", "type": "quantitative"}, "text": {"field": "t"}}}
]
},
{
"width": 295, "height": 258,
"title": {"text": "d"},
"layer": [
{"data": {"name": "shade"}, "transform": [{"filter": "datum.p=='d'"}], "mark": {"type": "rect", "color": "yellow", "opacity": 0.14},
 "encoding": {"x": {"field": "g1", "type": "nominal", "bandPosition": 0, "scale": {"domain": ["Control","Fungicide","Light pollution","Microplastic","Eutrophication","Salinization","Warming","1","2","4","6"], "paddingInner": 0, "paddingOuter": 0.1}, "axis": {"title": "GCF treatment and number", "labelAngle": -45, "labelAlign": "right", "labelBaseline": "top", "labelFontSize": 13.5, "titlePadding": 1, "grid": true}}, "x2": {"field": "g2", "bandPosition": 1.1}}},
{"data": {"name": "ctrl"}, "transform": [{"filter": "datum.p=='d'"}], "mark": {"type": "rule", "strokeDash": [4,3], "color": "black", "strokeWidth": 1},
 "encoding": {"y": {"field": "v", "type": "quantitative", "scale": {"domain": [-0.82, 0.827], "nice": false, "zero": false},
  "axis": {"title": null, "values": [-0.75,-0.625,-0.5,-0.375,-0.25,-0.125,0,0.125,0.25,0.375,0.5,0.625,0.75],
   "labelExpr": "abs(datum.value*4-round(datum.value*4))<0.01 ? format(datum.value,'.2f') : ''",
   "gridWidth": {"condition": {"test": "abs(datum.value*4-round(datum.value*4))<0.01", "value": 1}, "value": 0.5},
   "tickOpacity": {"condition": {"test": "abs(datum.value*4-round(datum.value*4))<0.01", "value": 1}, "value": 0}}}}},
{"data": {"name": "pts"}, "transform": [{"filter": "datum.p=='d'"}], "mark": {"type": "circle", "color": "blue", "opacity": 0.2, "size": 30},
 "encoding": {"x": {"field": "g", "type": "nominal"}, "xOffset": {"field": "j", "type": "quantitative", "scale": {"domain": [-0.5, 0.5]}}, "y": {"field": "v", "type": "quantitative"}}},
{"data": {"name": "means"}, "transform": [{"filter": "datum.p=='d'"}], "mark": {"type": "rule", "strokeWidth": 2},
 "encoding": {"x": {"field": "g", "type": "nominal"}, "y": {"field": "lo", "type": "quantitative"}, "y2": {"field": "hi"}, "color": {"field": "k", "type": "nominal", "scale": {"domain": ["t","n"], "range": ["black","red"]}, "legend": null}}},
{"data": {"name": "means"}, "transform": [{"filter": "datum.p=='d'"}], "mark": {"type": "circle", "size": 85, "opacity": 1},
 "encoding": {"x": {"field": "g", "type": "nominal"}, "y": {"field": "m", "type": "quantitative"}, "color": {"field": "k", "type": "nominal", "scale": {"domain": ["t","n"], "range": ["black","red"]}, "legend": null}}},
{"data": {"name": "notes"}, "transform": [{"filter": "datum.p=='d'"}], "mark": {"type": "text", "fontSize": 9.5, "baseline": "middle", "color": "#1a1a1a"},
 "encoding": {"x": {"field": "g", "type": "nominal"}, "y": {"field": "v", "type": "quantitative"}, "text": {"field": "t"}}},
{"data": {"name": "stars"}, "transform": [{"filter": "datum.p=='d'"}], "mark": {"type": "text", "fontSize": 16, "baseline": "middle", "color": "black"},
 "encoding": {"x": {"field": "g", "type": "nominal"}, "y": {"field": "v", "type": "quantitative"}, "text": {"field": "t"}}}
]
}
],
"columns": 2,
"spacing": {"row": 50, "column": 51},
"bounds": "flush",
"align": "each",
"config": {
"font": "Liberation Sans",
"view": {"stroke": "#333333", "strokeWidth": 1},
"axis": {"domain": false, "gridColor": "#EBEBEB", "tickColor": "#333333", "tickSize": 4, "labelColor": "#4D4D4D", "labelFontSize": 13, "titleFontSize": 15, "titleFontWeight": "normal", "titleColor": "black", "labelPadding": 2, "titlePadding": 4, "labelOverlap": false},
"axisX": {"titleFontSize": 14},
"title": {"anchor": "start", "frame": "group", "fontSize": 14, "fontWeight": "bold", "offset": 4}
}
}
